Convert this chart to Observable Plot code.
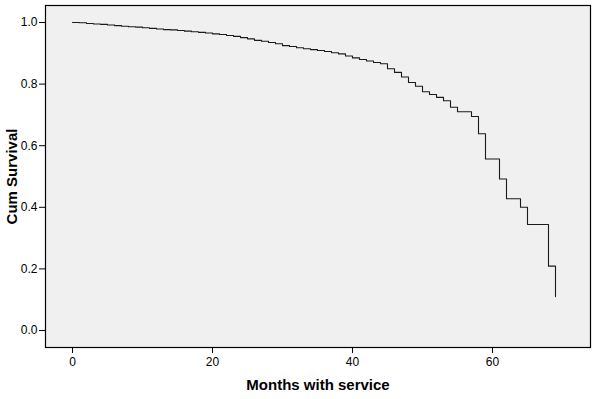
<!DOCTYPE html>
<html>
<head>
<meta charset="utf-8">
<script src="https://cdn.jsdelivr.net/npm/d3@7"></script>
<script src="https://cdn.jsdelivr.net/npm/@observablehq/plot@0.6"></script>
<style>
  html, body { margin: 0; padding: 0; background: #ffffff; }
  #chart svg { display: block; }
</style>
</head>
<body>
<div id="chart"></div>
<script>
// Months with service (time points of the Kaplan-Meier step curve)
const months = [
  0, 1, 2, 3, 4, 5, 6, 7, 8, 9,
  10, 11, 12, 13, 14, 15, 16, 17, 18, 19,
  20, 21, 22, 23, 24, 25, 26, 27, 28, 29,
  30, 31, 32, 33, 34, 35, 36, 37, 38, 39,
  40, 41, 42, 43, 44, 45, 46, 47, 48, 49,
  50, 51, 52, 53, 54, 55, 56, 57, 58, 59,
  60, 61, 62, 63, 64, 65, 66, 67, 68, 69
];
// Cumulative survival
const cumSurvival = [
  1.000, 0.999, 0.997, 0.995, 0.994, 0.992, 0.990, 0.988, 0.986, 0.985,
  0.983, 0.981, 0.979, 0.977, 0.976, 0.974, 0.972, 0.970, 0.968, 0.966,
  0.963, 0.961, 0.958, 0.955, 0.951, 0.947, 0.942, 0.939, 0.935, 0.931,
  0.925, 0.922, 0.918, 0.915, 0.912, 0.909, 0.906, 0.902, 0.898, 0.891,
  0.885, 0.880, 0.875, 0.870, 0.866, 0.850, 0.838, 0.823, 0.805, 0.793,
  0.775, 0.766, 0.757, 0.746, 0.725, 0.710, 0.710, 0.695, 0.639, 0.557,
  0.557, 0.492, 0.428, 0.428, 0.400, 0.344, 0.344, 0.344, 0.209, 0.110
];
const xTicks = [0, 20, 40, 60];
const yTicks = [0.0, 0.2, 0.4, 0.6, 0.8, 1.0];
const xLabel = "Months with service";
const yLabel = "Cum Survival";

const data = months.map((m, i) => ({month: m, survival: cumSurvival[i]}));

const font = "'Liberation Sans', Arial, Helvetica, sans-serif";

const chart = Plot.plot({
  width: 595,
  height: 399,
  marginLeft: 45,
  marginRight: 5,
  marginTop: 5,
  marginBottom: 52,
  style: { fontFamily: font, fontSize: "12px", color: "#000", background: "#ffffff" },
  x: { domain: [-3.857, 74] },
  y: { domain: [-0.0552, 1.0552] },
  marks: [
    Plot.frame({ fill: "#f0f0f0", stroke: "none" }),
    Plot.line(data, {
      x: "month", y: "survival", curve: "step-after",
      stroke: "#1a1a1a", strokeWidth: 1.1
    }),
    Plot.frame({ stroke: "#000", strokeWidth: 1.2 }),
    Plot.axisX({
      ticks: xTicks, tickSize: 6, tickPadding: 4, label: null,
      stroke: "#000", fill: "#000", fontSize: 12
    }),
    Plot.axisY({
      ticks: yTicks, tickFormat: d3.format(".1f"), tickSize: 6, tickPadding: 2, label: null,
      stroke: "#000", fill: "#000", fontSize: 12
    }),
    Plot.text([xLabel], {
      text: d => d, frameAnchor: "bottom", dy: 38, lineAnchor: "middle", textAnchor: "middle",
      fontWeight: "bold", fontSize: 15, fill: "#000"
    }),
    Plot.text([yLabel], {
      text: d => d, frameAnchor: "left", dx: -33, rotate: -90, lineAnchor: "middle", textAnchor: "middle",
      fontWeight: "bold", fontSize: 15, fill: "#000"
    })
  ]
});
document.getElementById("chart").appendChild(chart);
</script>
</body>
</html>
